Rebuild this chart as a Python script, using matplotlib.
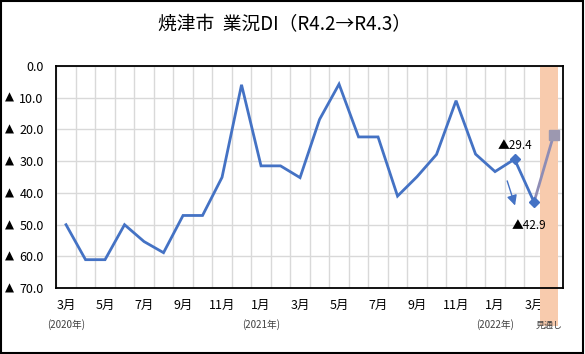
import matplotlib
matplotlib.use("Agg")
import matplotlib.pyplot as plt
import matplotlib.patches as patches
import matplotlib.transforms as mtransforms
import numpy as np

plt.rcParams['font.family'] = ['Noto Sans CJK JP', 'DejaVu Sans']

# 業況DI (マイナス値を正で表示、軸は反転)
months = ['3月', '4月', '5月', '6月', '7月', '8月', '9月', '10月', '11月', '12月',
          '1月', '2月', '3月', '4月', '5月', '6月', '7月', '8月', '9月', '10月',
          '11月', '12月', '1月', '2月', '3月']
di_values = [50.0, 61.0, 61.0, 50.0, 55.3, 58.8, 47.1, 47.1, 35.1, 6.0,
             31.5, 31.5, 35.2, 16.9, 5.8, 22.4, 22.4, 41.0, 34.9, 27.9,
             11.0, 27.8, 33.3, 29.4, 42.9]
forecast_value = 21.9
year_labels = {0: '(2020年)', 10: '(2021年)', 22: '(2022年)'}
yticks = [0, 10, 20, 30, 40, 50, 60, 70]

BLUE = '#4472C4'
BAND = '#F8CBAD'

fig = plt.figure(figsize=(5.85, 3.54), dpi=100)
ax = fig.add_axes([0.0962, 0.1856, 0.8667, 0.6288])

x = np.arange(len(di_values))
x_fc = len(di_values)

# 見通し band (extends below the axes)
band = patches.Rectangle((24.31, 0), 0.9, 1.0, transform=ax.get_xaxis_transform(),
                         facecolor=BAND, edgecolor='none', zorder=1.5)
ax.add_patch(band)
band2 = patches.Rectangle((24.31, -0.17), 0.9, 0.17, transform=ax.get_xaxis_transform(),
                          facecolor=BAND, edgecolor='none', zorder=1.5, clip_on=False)
ax.add_patch(band2)

ax.plot(x, di_values, color=BLUE, lw=2, zorder=3, solid_joinstyle='miter')
ax.plot([x[-1], x_fc], [di_values[-1], forecast_value], color='#8f8db5', lw=2, zorder=2.5)
ax.plot(x_fc, forecast_value, marker='s', ms=6.5, color='#9c98b0', zorder=3)
ax.plot(x[-2:], di_values[-2:], ls='none', marker='D', ms=5, color=BLUE, zorder=4)

ax.annotate('', xy=(23.07, 44.8), xytext=(22.58, 35.4),
            arrowprops=dict(arrowstyle='-|>,head_length=0.6,head_width=0.3',
                            color=BLUE, lw=1, mutation_scale=10))
ax.text(22.14, 25.0, '▲29.4', fontsize=8.5, va='center', ha='left')
ax.text(22.87, 50.3, '▲42.9', fontsize=8.5, va='center', ha='left')

ax.set_xlim(-0.5, len(di_values) + 0.5)
ax.set_ylim(70, 0)
ax.set_yticks(yticks)
ax.set_yticklabels(['%.1f' % v for v in yticks], fontsize=9)
ax.set_xticks(np.arange(-0.5, len(di_values) + 1, 1), minor=True)
ax.set_xticks(x[::2])
ax.set_xticklabels(months[::2], fontsize=9)
ax.tick_params(axis='both', which='both', length=0)
ax.tick_params(axis='x', pad=8)
ax.tick_params(axis='y', pad=9)
ax.grid(True, axis='y', color='#d9d9d9', lw=1)
ax.grid(True, axis='x', which='minor', color='#d9d9d9', lw=1)
ax.set_axisbelow(True)
for s in ax.spines.values():
    s.set_color('black')
    s.set_linewidth(1.3)

# small triangles (minus sign) in front of the y tick labels
tri_trans = mtransforms.blended_transform_factory(fig.transFigure, ax.transData)
for v in yticks[1:]:
    ax.text(9.5 / 585, v, '▲', transform=tri_trans, fontsize=8.5, ha='center', va='center',
            family='DejaVu Sans', clip_on=False)

for k, lab in year_labels.items():
    ax.text(k, -0.165, lab, transform=ax.get_xaxis_transform(), fontsize=7,
            ha='center', va='center', color='#404040')
ax.text(24.8, -0.165, '見通し', transform=ax.get_xaxis_transform(), fontsize=6.5,
        ha='center', va='center', color='#404040')

fig.text(0.487, 0.93, '焼津市  業況DI（R4.2→R4.3）', fontsize=13.5, ha='center', va='center')

fig.patches.append(patches.Rectangle((0.002, 0.003), 0.995, 0.994, transform=fig.transFigure,
                                     fill=False, edgecolor='black', lw=1.5))

fig.savefig('out.png', dpi=100)
